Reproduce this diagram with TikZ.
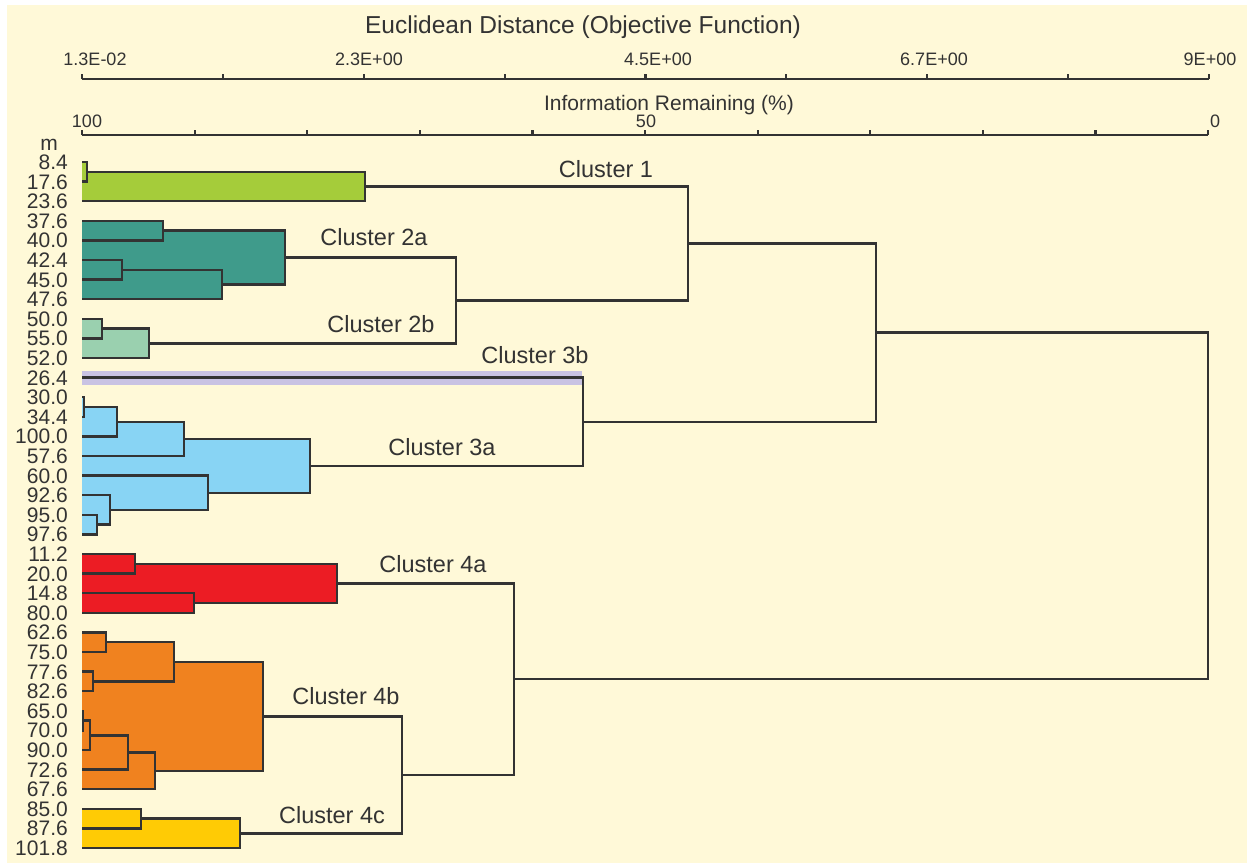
\documentclass[tikz,border=0pt]{standalone}
\usepackage{fontspec}
\setmainfont{Liberation Sans}
\usetikzlibrary{calc}
\definecolor{bg}{HTML}{FFF9D8}
\definecolor{ink}{HTML}{333333}
\definecolor{cA}{HTML}{A5CC3A}
\definecolor{cB}{HTML}{3F9B8B}
\definecolor{cC}{HTML}{9AD0AF}
\definecolor{cD}{HTML}{C9C3E3}
\definecolor{cE}{HTML}{88D4F4}
\definecolor{cF}{HTML}{EC1C24}
\definecolor{cG}{HTML}{F0821F}
\definecolor{cH}{HTML}{FFCB05}
\tikzset{
  dline/.style={draw=ink, line width=2.4pt, line join=miter},
  axline/.style={draw=ink, line width=2.2pt},
  rowlab/.style={anchor=base east, inner sep=0pt, text=ink, font=\fontsize{21}{21}\selectfont},
  axlab/.style={anchor=base, inner sep=0pt, text=ink, font=\fontsize{18}{18}\selectfont},
  ttl/.style={anchor=base, inner sep=0pt, text=ink},
  clab/.style={anchor=base, inner sep=0pt, text=ink, font=\fontsize{23.5}{23.5}\selectfont}
}
\newcommand\mrgfill[5]{\path[fill=#5] (82,0 |- #2) rectangle (#4,0 |- #3);}
\newcommand\mrgline[5]{\draw[dline] (#2) -- (#4,0 |- #2) -- (#4,0 |- #3) -- (#3);}
\newcommand\mrg[5]{%
  \coordinate (tmp) at ($(#2)!0.5!(#3)$);
  \coordinate (#1) at (#4,0 |- tmp);
  \mrgact{#1}{#2}{#3}{#4}{#5}}
\newcommand\dendro{%
  % Cluster 1
  \mrg{a1}{L0}{L1}{87}{cA}
  \mrg{C1}{a1}{L2}{365}{cA}
  % Cluster 2a
  \mrg{b1}{L3}{L4}{163}{cB}
  \mrg{b2}{L5}{L6}{122}{cB}
  \mrg{b3}{b2}{L7}{222}{cB}
  \mrg{C2a}{b1}{b3}{285}{cB}
  % Cluster 2b
  \mrg{d1}{L8}{L9}{102}{cC}
  \mrg{C2b}{d1}{L10}{149}{cC}
  \mrg{C2}{C2a}{C2b}{456}{none}
  \mrg{C12}{C1}{C2}{688}{none}
  % Cluster 3a
  \mrg{e1}{L12}{L13}{84}{cE}
  \mrg{e2}{e1}{L14}{117}{cE}
  \mrg{e3}{e2}{L15}{184}{cE}
  \mrg{e4}{L18}{L19}{97}{cE}
  \mrg{e5}{L17}{e4}{110}{cE}
  \mrg{e6}{L16}{e5}{208}{cE}
  \mrg{C3a}{e3}{e6}{310}{cE}
  \mrg{C3}{L11}{C3a}{583}{none}
  \mrg{C123}{C12}{C3}{876}{none}
  % Cluster 4a
  \mrg{f1}{L20}{L21}{135}{cF}
  \mrg{f2}{L22}{L23}{194}{cF}
  \mrg{C4a}{f1}{f2}{337}{cF}
  % Cluster 4b
  \mrg{g1}{L24}{L25}{106}{cG}
  \mrg{g2}{L26}{L27}{93}{cG}
  \mrg{g3}{g1}{g2}{174}{cG}
  \mrg{g4}{L28}{L29}{83}{cG}
  \mrg{g5}{g4}{L30}{90}{cG}
  \mrg{g6}{g5}{L31}{128}{cG}
  \mrg{g7}{g6}{L32}{155}{cG}
  \mrg{C4b}{g3}{g7}{263}{cG}
  % Cluster 4c
  \mrg{h1}{L33}{L34}{141}{cH}
  \mrg{C4c}{h1}{L35}{240}{cH}
  \mrg{C4bc}{C4b}{C4c}{402}{none}
  \mrg{C4}{C4a}{C4bc}{514}{none}
  \mrg{root}{C123}{C4}{1208}{none}
}
\begin{document}
\begin{tikzpicture}[x=1pt,y=-1pt]
\useasboundingbox (0,0) rectangle (1247,863);
\fill[white] (0,0) rectangle (1247,863);
\fill[bg] (7,5) rectangle (1247,863);

% titles
\node[ttl, font=\fontsize{24.5}{24.5}\selectfont] (title) at (583,33) {Euclidean Distance (Objective Function)};
\node[ttl, font=\fontsize{21}{21}\selectfont] (info) at (669,110) {Information Remaining (\%)};

% top axis
\draw[axline] (82,79) -- (1209,79);
\foreach \k in {0,...,8} \draw[axline] ({82+140.875*\k},79) -- ({82+140.875*\k},74);
\node[axlab] (d0) at (95,65) {1.3E-02};
\node[axlab] (d1) at (369,65) {2.3E+00};
\node[axlab] (d2) at (658,65) {4.5E+00};
\node[axlab] (d3) at (934,65) {6.7E+00};
\node[axlab] (d4) at (1210,65) {9E+00};

% second axis
\draw[axline] (82,135) -- (1208,135);
\foreach \k in {0,...,10} \draw[axline] ({82+112.6*\k},135) -- ({82+112.6*\k},130);
\node[axlab] (p0) at (87,127) {100};
\node[axlab] (p1) at (646,127) {50};
\node[axlab] (p2) at (1215,127) {0};

% leaves and labels
\node[rowlab] (mlab) at (58,150) {m};
\foreach \t [count=\i from 0] in {8.4,17.6,23.6,37.6,40.0,42.4,45.0,47.6,50.0,55.0,52.0,26.4,30.0,34.4,100.0,57.6,60.0,92.6,95.0,97.6,11.2,20.0,14.8,80.0,62.6,75.0,77.6,82.6,65.0,70.0,90.0,72.6,67.6,85.0,87.6,101.8}{
  \coordinate (L\i) at (82,{162+19.6*\i});
  \node[rowlab] (lab\i) at (68,{169.5+19.6*\i}) {\t};
}

% cluster 3b band
\fill[cD] (82,370.5) rectangle (582,384.5);

% fills then lines
\let\mrgact\mrgfill
\dendro
\let\mrgact\mrgline
\dendro

% cluster labels
\node[clab] (k1) at (606,177) {Cluster 1};
\node[clab] (k2a) at (374,245) {Cluster 2a};
\node[clab] (k2b) at (381,332) {Cluster 2b};
\node[clab] (k3b) at (535,363) {Cluster 3b};
\node[clab] (k3a) at (442,455) {Cluster 3a};
\node[clab] (k4a) at (433,572) {Cluster 4a};
\node[clab] (k4b) at (346,704) {Cluster 4b};
\node[clab] (k4c) at (332,823) {Cluster 4c};
\end{tikzpicture}
\end{document}
